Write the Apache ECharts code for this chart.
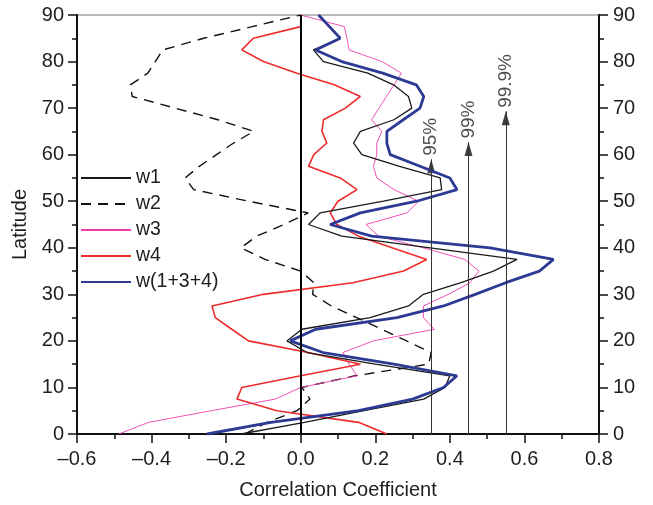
<!DOCTYPE html>
<html>
<head>
<meta charset="utf-8">
<script src="https://cdn.jsdelivr.net/npm/echarts@6/dist/echarts.min.js"></script>
<style>
html,body{margin:0;padding:0;background:#fff;}
#chart{width:653px;height:505px;}
</style>
</head>
<body>
<div id="chart"></div>
<script>
// Latitude grid (degrees), bottom to top
var lats = [0, 2.5, 5, 7.5, 10, 12.5, 15, 17.5, 20, 22.5, 25, 27.5, 30, 32.5, 35, 37.5, 40, 42.5, 45, 47.5,
            50, 52.5, 55, 57.5, 60, 62.5, 65, 67.5, 70, 72.5, 75, 77.5, 80, 82.5, 85, 87.5, 90];

var w1 = [-0.16, 0.01, 0.17, 0.33, 0.387, 0.40, 0.20, 0.017, -0.037, 0.003, 0.186, 0.289, 0.329, 0.43, 0.517, 0.58, 0.347, 0.11, 0.021, 0.052,
          0.222, 0.378, 0.374, 0.265, 0.164, 0.142, 0.16, 0.25, 0.298, 0.289, 0.249, 0.18, 0.061, 0.034, 0.106, 0.077, 0.048];
var w2 = [-0.15, -0.09, -0.01, 0.025, 0.003, 0.146, 0.343, 0.35, 0.284, 0.217, 0.15, 0.082, 0.032, 0.035, 0.0, -0.096, -0.16, -0.118, -0.045, 0.02,
          -0.14, -0.287, -0.31, -0.272, -0.226, -0.18, -0.126, -0.222, -0.337, -0.452, -0.457, -0.41, -0.39, -0.37, -0.26, -0.13, 0.0];
var w3 = [-0.488, -0.408, -0.24, -0.068, 0.0, 0.151, 0.13, 0.113, 0.195, 0.358, 0.329, 0.329, 0.396, 0.454, 0.478, 0.44, 0.328, 0.209, 0.175, 0.285,
          0.316, 0.25, 0.204, 0.195, 0.204, 0.204, 0.218, 0.19, 0.21, 0.23, 0.25, 0.27, 0.218, 0.13, 0.124, 0.117, 0.0];
var w4 = [0.231, 0.155, -0.064, -0.171, -0.158, 0.0, 0.16, 0.02, -0.14, -0.185, -0.229, -0.238, -0.1, 0.14, 0.276, 0.338, 0.245, 0.155, 0.097, 0.079,
          0.10, 0.151, 0.106, 0.021, 0.035, 0.07, 0.057, 0.061, 0.12, 0.16, 0.09, -0.01, -0.10, -0.158, -0.127, 0.0, 0.0];
var wSum = [-0.251, -0.08, 0.155, 0.30, 0.383, 0.419, 0.25, 0.06, -0.028, 0.04, 0.258, 0.383, 0.468, 0.55, 0.64, 0.678, 0.508, 0.19, 0.079, 0.16,
            0.311, 0.419, 0.40, 0.32, 0.24, 0.231, 0.231, 0.275, 0.32, 0.33, 0.31, 0.22, 0.11, 0.04, 0.106, 0.077, 0.048];

// Significance levels
var sigX = [0.35, 0.45, 0.55];
var sigTip = [59, 62.7, 69.3];
var sigLabels = ['95%', '99%', '99.9%'];

var xTicks = [-0.6, -0.4, -0.2, 0.0, 0.2, 0.4, 0.6, 0.8];

function pairs(vals) { return vals.map(function (v, i) { return [v, lats[i]]; }); }

var FONT = '"Liberation Sans", Arial, Helvetica, sans-serif';
var TXT = '#1e1e1e';

var chart = echarts.init(document.getElementById('chart'), null, {renderer: 'canvas'});

function lineSeries(name, vals, color, width, type) {
  return {
    name: name, type: 'line', data: pairs(vals), symbol: 'none', showSymbol: false,
    lineStyle: {color: color, width: width, type: type || 'solid'},
    itemStyle: {color: color},
    animation: false, silent: true
  };
}

var series = [
  lineSeries('w2', w2, '#111', 1.4, [10, 7]),
  lineSeries('w3', w3, '#f03cb0', 0.9),
  lineSeries('w4', w4, '#ee2b2b', 1.6),
  lineSeries('w1', w1, '#1a1a1a', 1.3),
  lineSeries('w(1+3+4)', wSum, '#2c3a94', 2.8)
];

// zero line
series.push({
  type: 'line', data: [], symbol: 'none', silent: true, animation: false,
  markLine: {
    silent: true, animation: false, symbol: ['none', 'none'],
    label: {show: false},
    lineStyle: {color: '#000', width: 2, type: 'solid'},
    data: [[{coord: [0, 0]}, {coord: [0, 90]}]]
  }
});

// significance arrow shafts
series.push({
  type: 'scatter', data: [], silent: true, animation: false,
  markLine: {
    silent: true, animation: false, symbol: ['none', 'none'],
    label: {show: false},
    lineStyle: {color: '#333', width: 1, type: 'solid'},
    data: sigX.map(function (x, i) { return [{coord: [x, 0]}, {coord: [x, sigTip[i]]}]; })
  }
});
// arrow heads
series.push({
  type: 'scatter', silent: true, animation: false,
  symbol: 'triangle', symbolSize: [8, 14], symbolOffset: [0, '50%'],
  itemStyle: {color: '#111'},
  data: sigX.map(function (x, i) { return [x, sigTip[i]]; })
});
// labels
series.push({
  type: 'scatter', silent: true, animation: false,
  symbolSize: 1, itemStyle: {color: 'rgba(0,0,0,0)'},
  label: {
    show: true, position: 'top', distance: 3, rotate: 90, align: 'left', verticalAlign: 'middle',
    fontFamily: FONT, fontSize: 19, color: TXT,
    formatter: function (p) { return sigLabels[p.dataIndex]; }
  },
  data: sigX.map(function (x, i) { return [x, sigTip[i]]; })
});

var yAxisBase = {
  type: 'value', min: 0, max: 90, interval: 10,
  axisLine: {show: true, onZero: false, lineStyle: {color: '#111', width: 2}},
  axisTick: {show: true, inside: false, length: 9, lineStyle: {color: '#111', width: 1.5}},
  minorTick: {show: true, splitNumber: 2, length: 5, lineStyle: {color: '#111', width: 1.5}},
  splitLine: {show: false}, minorSplitLine: {show: false},
  axisLabel: {fontFamily: FONT, fontSize: 20, color: TXT, margin: 13}
};

chart.setOption({
  backgroundColor: '#fff',
  animation: false,
  grid: {left: 77, right: 54, top: 15, bottom: 69, show: true, borderColor: '#777', borderWidth: 1, backgroundColor: 'transparent'},
  legend: {
    data: ['w1', 'w2', 'w3', 'w4', 'w(1+3+4)'],
    orient: 'vertical', left: 80, top: 168, padding: 0, itemWidth: 50, itemHeight: 14, itemGap: 6,
    itemStyle: {opacity: 0},
    textStyle: {fontFamily: FONT, fontSize: 19.5, color: TXT},
    selectedMode: false
  },
  xAxis: {
    type: 'value', min: xTicks[0], max: xTicks[xTicks.length - 1], interval: 0.2,
    position: 'bottom',
    axisLine: {show: true, onZero: false, lineStyle: {color: '#111', width: 2}},
    axisTick: {show: true, inside: false, length: 9, lineStyle: {color: '#111', width: 1.5}},
    minorTick: {show: true, splitNumber: 2, length: 5, lineStyle: {color: '#111', width: 1.5}},
    splitLine: {show: false}, minorSplitLine: {show: false},
    axisLabel: {
      fontFamily: FONT, fontSize: 20, color: TXT, margin: 15,
      formatter: function (v) { return v < 0 ? '\u2013' + Math.abs(v).toFixed(1) : v.toFixed(1); }
    },
    name: 'Correlation Coefficient', nameLocation: 'middle', nameGap: 46,
    nameTextStyle: {fontFamily: FONT, fontSize: 20, color: TXT}
  },
  yAxis: [
    Object.assign({}, yAxisBase, {position: 'left', name: 'Latitude', nameLocation: 'middle', nameGap: 46,
      nameTextStyle: {fontFamily: FONT, fontSize: 20, color: TXT}}),
    Object.assign({}, yAxisBase, {position: 'right', axisLabel: {fontFamily: FONT, fontSize: 20, color: TXT, margin: 14}})
  ],
  series: series
});
</script>
</body>
</html>
